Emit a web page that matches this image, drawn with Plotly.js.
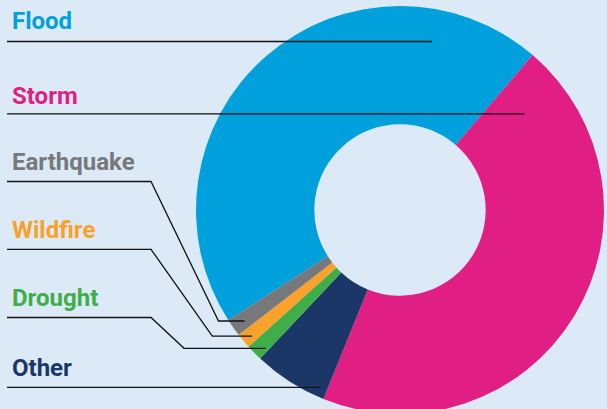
<!DOCTYPE html>
<html><head><meta charset="utf-8">
<script src="https://cdn.plot.ly/plotly-3.0.1.min.js"></script>
<style>html,body{margin:0;padding:0;overflow:hidden;background:#DCEAF7;}</style>
</head><body><div id="chart" style="width:607px;height:414px;"></div>
<script>
// Data (clockwise order starting at the Flood slice)
const categories = ['Flood', 'Storm', 'Other', 'Drought', 'Wildfire', 'Earthquake'];
const shares = [45.4, 44.9, 5.9, 1.3, 1.2, 1.4];
const sliceColors = ['#00A0DC', '#E01E84', '#1B3768', '#3FAE49', '#F9A12A', '#76787B'];
// Label list (text order, top to bottom)
const labelNames = ['Flood', 'Storm', 'Earthquake', 'Wildfire', 'Drought', 'Other'];

// Layout helpers (pixel -> paper)
const W = 607, H = 414, MT = 6;
const px = x => x / W;
const py = y => 1 - (y - MT) / (H - MT);

const labelY = {Flood: 21.3, Storm: 95.8, Earthquake: 161.7, Wildfire: 230.3, Drought: 298.3, Other: 367.7};
const leaders = {
  Flood: [[7, 41.5], [432, 41.5]],
  Storm: [[7, 113.8], [524.5, 113.8]],
  Earthquake: [[7, 181.5], [151, 181.5], [218.5, 321], [244.5, 321]],
  Wildfire: [[7, 249.3], [151, 249.3], [212.3, 336.2], [252, 336.2]],
  Drought: [[7, 317.5], [151, 317.5], [184, 348.3], [265.7, 348.3]],
  Other: [[7, 387.3], [320.5, 387.3]]
};

const colorOf = {};
categories.forEach((c, i) => colorOf[c] = sliceColors[i]);

const trace = {
  type: 'pie',
  labels: categories,
  values: shares,
  marker: {colors: sliceColors, line: {width: 0}},
  hole: 0.42,
  sort: false,
  direction: 'clockwise',
  rotation: 237.3,
  textinfo: 'none',
  hoverinfo: 'label+percent',
  showlegend: false,
  domain: {x: [px(400 - 204), px(400 + 204)], y: [0, 1]}
};

const annotations = labelNames.map(n => ({
  xref: 'paper', yref: 'paper',
  x: px(10), y: py(labelY[n]),
  xanchor: 'left', yanchor: 'middle',
  text: n, showarrow: false,
  font: {family: 'Roboto, Arial, sans-serif', size: 24, weight: 700, color: colorOf[n]}
}));

const shapes = labelNames.map(n => ({
  type: 'path', xref: 'paper', yref: 'paper', layer: 'above',
  path: leaders[n].map((p, i) => (i ? 'L' : 'M') + px(p[0]) + ',' + py(p[1])).join(' '),
  line: {color: '#111111', width: 1.3}
}));

const layout = {
  width: W, height: H,
  margin: {l: 0, r: 0, t: MT, b: 0, pad: 0},
  paper_bgcolor: '#DCEAF7',
  plot_bgcolor: '#DCEAF7',
  showlegend: false,
  annotations: annotations,
  shapes: shapes
};

Plotly.newPlot('chart', [trace], layout, {displayModeBar: false, staticPlot: true});
</script></body></html>
